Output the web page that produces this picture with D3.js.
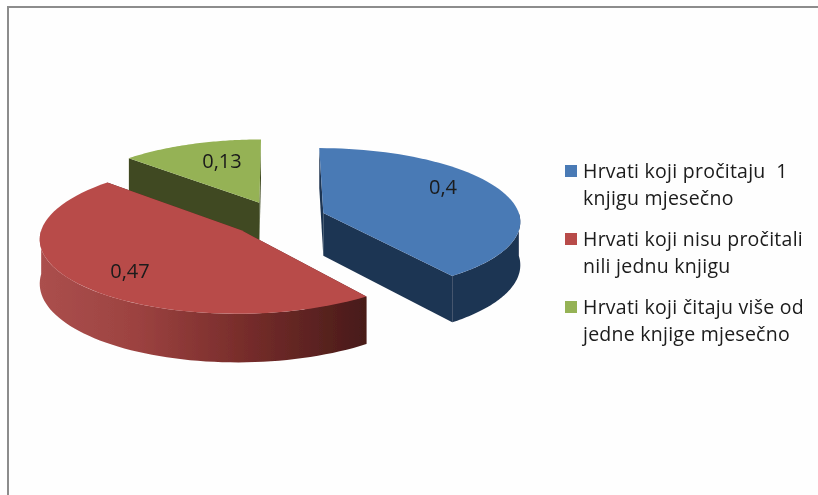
<!DOCTYPE html>
<html>
<head>
<meta charset="utf-8">
<script src="https://cdn.jsdelivr.net/npm/d3@7"></script>
<style>
  html, body { margin: 0; padding: 0; background: #fefefe; }
  svg { display: block; }
  text { font-family: "Open Sans", Lato, sans-serif; fill: #1a1a1a; white-space: pre; }
</style>
</head>
<body>
<svg width="818" height="495"></svg>
<script>
const categories = [
  "Hrvati koji pročitaju  1 knjigu mjesečno",
  "Hrvati koji nisu pročitali nili jednu knjigu",
  "Hrvati koji čitaju više od jedne knjige mjesečno"
];
const values = [0.4, 0.47, 0.13];
const valueLabels = ["0,4", "0,47", "0,13"];
const legendLines = [
  ["Hrvati koji pročitaju  1", "knjigu mjesečno"],
  ["Hrvati koji nisu pročitali", "nili jednu knjigu"],
  ["Hrvati koji čitaju više od", "jedne knjige mjesečno"]
];
const topColors = ["#4a7ab5", "#b84b4a", "#95b254"];
const wallColors = ["#1f3552", "url(#redWall)", "#3f4a20"];

const svg = d3.select("svg");
const defs = svg.append("defs");

const redWall = defs.append("linearGradient")
  .attr("id", "redWall")
  .attr("gradientUnits", "userSpaceOnUse")
  .attr("x1", 40).attr("x2", 366).attr("y1", 0).attr("y2", 0);
[[0, "#ab4f4d"], [0.3, "#9c4240"], [0.6, "#7a2e2c"], [1, "#481b19"]].forEach(s => {
  redWall.append("stop").attr("offset", s[0]).attr("stop-color", s[1]);
});

// the reference is a soft, upscaled image
defs.append("filter")
  .attr("id", "soft")
  .append("feGaussianBlur")
  .attr("stdDeviation", 0.5);

// frame, only top and left are in the picture
svg.append("path")
  .attr("d", "M8,495V7H818")
  .attr("fill", "none")
  .attr("stroke", "#8c8c8c")
  .attr("stroke-width", 2);

// projection of the pie plane
const cx = 278, cy = 218.5, radius = 197, tilt = 0.368, persp = 0.1, depth = 43, explode = 48 / 197;

function project(u, v, h) {
  const p = 1 / (1 - persp * v);
  return [cx + radius * u * p, cy + radius * tilt * v * p + h * p];
}

const color = d3.scaleOrdinal().domain(categories).range(topColors);
const wall = d3.scaleOrdinal().domain(categories).range(wallColors);

const arcs = d3.pie().sort(null).value(d => d)(values).map((a, i) => {
  const mid = (a.startAngle + a.endAngle) / 2;
  return {
    name: categories[i],
    label: valueLabels[i],
    start: a.startAngle,
    end: a.endAngle,
    ox: Math.sin(mid) * explode,
    oy: -Math.cos(mid) * explode
  };
});

const line = d3.line();

function rim(d, h, from, to) {
  return d3.range(0, 61).map(k => {
    const t = from + (to - from) * k / 60;
    return project(d.ox + Math.sin(t), d.oy - Math.cos(t), h);
  });
}
function apex(d, h) {
  return project(d.ox, d.oy, h);
}

// back slices first: green, then blue, then red in front
const order = [2, 0, 1];
const pieG = svg.append("g").attr("filter", "url(#soft)");

order.forEach(i => {
  const d = arcs[i];
  const g = pieG.append("g");

  // cut walls
  [d.start, d.end].forEach(t => {
    const rimTop = project(d.ox + Math.sin(t), d.oy - Math.cos(t), 0);
    const rimLow = project(d.ox + Math.sin(t), d.oy - Math.cos(t), depth);
    g.append("path")
      .attr("d", line([apex(d, 0), rimTop, rimLow, apex(d, depth)]) + "Z")
      .attr("fill", i === 1 ? "#5a2220" : wall(d.name));
  });

  // outer wall, front half of the rim only
  const from = Math.max(d.start, Math.PI / 2);
  const to = Math.min(d.end, Math.PI * 1.5);
  if (to > from) {
    const upper = rim(d, 0, from, to);
    const lower = rim(d, depth, from, to).reverse();
    g.append("path")
      .attr("d", line(upper.concat(lower)) + "Z")
      .attr("fill", wall(d.name));
  }

  // top face
  g.append("path")
    .attr("d", line([apex(d, 0)].concat(rim(d, 0, d.start, d.end))) + "Z")
    .attr("fill", color(d.name));
});

// value labels
const labelPos = [[443, 187], [130, 271], [222, 161]];
svg.append("g").attr("filter", "url(#soft)").selectAll("text")
  .data(arcs)
  .join("text")
  .attr("x", (d, i) => labelPos[i][0])
  .attr("y", (d, i) => labelPos[i][1])
  .attr("dy", "0.35em")
  .attr("text-anchor", "middle")
  .attr("font-size", 20)
  .text(d => d.label);

// legend
const legendY = d3.scalePoint().domain(categories).range([171, 307]);
const legend = svg.append("g").attr("filter", "url(#soft)").selectAll("g")
  .data(categories)
  .join("g")
  .attr("transform", d => `translate(565,${legendY(d)})`);

legend.append("rect")
  .attr("x", 0).attr("y", -6)
  .attr("width", 12).attr("height", 12)
  .attr("fill", d => color(d));

legend.each(function(d, i) {
  d3.select(this).selectAll("text")
    .data(legendLines[i])
    .join("text")
    .attr("x", 18)
    .attr("y", (t, j) => 7 + j * 27)
    .attr("font-size", 19.5)
    .attr("letter-spacing", 0.25)
    .text(t => t);
});
</script>
</body>
</html>
